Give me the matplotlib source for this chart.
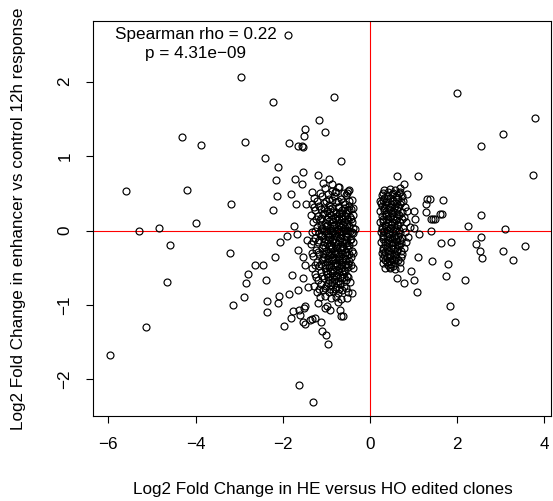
import numpy as np
import matplotlib
matplotlib.use("Agg")
import matplotlib.pyplot as plt

plt.rcParams['font.family'] = ['Liberation Sans', 'DejaVu Sans']

# log2 fold changes: (HE vs HO clones, enhancer vs control 12h)
far_left = [(-2.96, 2.06), (-4.31, 1.25), (-3.88, 1.15), (-2.87, 1.19), (-5.60, 0.53),
            (-4.19, 0.54), (-3.18, 0.35), (-4.00, 0.10), (-5.29, -0.01), (-4.84, 0.03),
            (-4.59, -0.19), (-3.20, -0.30), (-2.64, -0.47), (-2.80, -0.58), (-2.84, -0.70),
            (-4.66, -0.69), (-2.89, -0.89), (-3.15, -1.00), (-5.14, -1.30), (-5.96, -1.68)]

left_fringe = [(-1.87, 2.63), (-2.22, 1.73), (-0.82, 1.79), (-1.16, 1.49), (-1.03, 1.32),
               (-1.49, 1.37), (-1.51, 1.27), (-1.86, 1.18), (-1.64, 1.14), (-1.53, 1.12),
               (-1.57, 1.14), (-2.41, 0.97), (-2.12, 0.85), (-0.66, 0.93), (-1.53, 0.78),
               (-2.16, 0.68), (-1.72, 0.69), (-1.55, 0.63), (-1.19, 0.75), (-1.07, 0.64),
               (-0.94, 0.69), (-0.86, 0.63), (-0.73, 0.59), (-0.80, 0.52), (-0.51, 0.53),
               (-1.81, 0.49), (-2.13, 0.46), (-2.22, 0.28), (-1.70, 0.35), (-1.47, 0.36),
               (-1.34, 0.52), (-1.74, 0.06), (-1.91, -0.08), (-2.06, -0.15), (-1.68, -0.05),
               (-1.45, -0.13), (-1.64, -0.26), (-2.18, -0.36), (-2.45, -0.47), (-1.53, -0.35),
               (-1.49, -0.46), (-2.39, -0.67), (-1.78, -0.60), (-1.53, -0.64), (-1.42, -0.76),
               (-1.64, -0.80), (-1.86, -0.86), (-2.09, -0.88), (-2.37, -0.95), (-2.10, -0.98),
               (-2.37, -1.10), (-1.49, -1.02), (-1.19, -0.97), (-0.99, -1.01), (-0.73, -0.96),
               (-0.53, -0.91), (-0.42, -0.84), (-1.98, -1.28), (-1.82, -1.17), (-1.77, -1.08),
               (-1.62, -1.07), (-1.61, -1.14), (-1.51, -1.04), (-1.53, -1.23), (-1.49, -1.26),
               (-1.38, -1.20), (-1.25, -1.17), (-1.34, -1.19), (-1.12, -1.23), (-1.11, -1.35),
               (-1.01, -1.41), (-0.97, -1.53), (-1.02, -1.04), (-0.92, -1.07), (-0.69, -1.07),
               (-0.67, -1.15), (-0.61, -1.15), (-1.62, -2.08), (-1.31, -2.30)]

left_core = [(-1.02, 0.57), (-0.88, 0.53), (-0.71, 0.58), (-0.60, 0.51), (-0.47, 0.55),
             (-1.28, 0.44), (-1.10, 0.47), (-0.95, 0.42), (-0.82, 0.46), (-0.66, 0.43),
             (-0.55, 0.48), (-0.42, 0.41), (-1.32, 0.36), (-1.18, 0.33), (-1.05, 0.37),
             (-0.93, 0.34), (-0.79, 0.38), (-0.70, 0.32), (-0.58, 0.36), (-0.49, 0.33),
             (-1.25, 0.27), (-1.12, 0.29), (-0.99, 0.26), (-0.86, 0.30), (-0.77, 0.25),
             (-0.64, 0.28), (-0.53, 0.27), (-0.44, 0.29), (-1.36, 0.21), (-1.20, 0.19),
             (-1.08, 0.22), (-0.97, 0.18), (-0.90, 0.21), (-0.81, 0.17), (-0.72, 0.22),
             (-0.63, 0.19), (-0.57, 0.20), (-0.46, 0.18), (-0.38, 0.21), (-1.30, 0.12),
             (-1.15, 0.14), (-1.03, 0.10), (-0.94, 0.13), (-0.85, 0.11), (-0.76, 0.14),
             (-0.68, 0.10), (-0.60, 0.12), (-0.51, 0.13), (-0.41, 0.11), (-1.22, 0.05),
             (-1.10, 0.03), (-1.00, 0.06), (-0.91, 0.04), (-0.83, 0.07), (-0.74, 0.02),
             (-0.66, 0.05), (-0.58, 0.03), (-0.49, 0.06), (-0.40, 0.04), (-0.35, 0.02),
             (-1.33, -0.02), (-1.17, -0.04), (-1.06, 0.00), (-0.96, -0.03), (-0.88, -0.01),
             (-0.80, -0.04), (-0.71, -0.02), (-0.62, 0.00), (-0.54, -0.03), (-0.45, -0.01),
             (-0.38, -0.04), (-1.27, -0.10), (-1.13, -0.08), (-1.02, -0.11), (-0.93, -0.09),
             (-0.84, -0.12), (-0.77, -0.08), (-0.69, -0.10), (-0.60, -0.12), (-0.52, -0.09),
             (-0.43, -0.11), (-1.35, -0.18), (-1.20, -0.16), (-1.08, -0.19), (-0.98, -0.17),
             (-0.89, -0.20), (-0.81, -0.16), (-0.73, -0.18), (-0.65, -0.21), (-0.56, -0.17),
             (-0.47, -0.19), (-0.39, -0.16), (-1.24, -0.26), (-1.11, -0.24), (-1.00, -0.27),
             (-0.92, -0.25), (-0.83, -0.28), (-0.75, -0.24), (-0.67, -0.26), (-0.58, -0.29),
             (-0.50, -0.25), (-0.42, -0.27), (-1.30, -0.34), (-1.16, -0.32), (-1.05, -0.35),
             (-0.95, -0.33), (-0.86, -0.36), (-0.78, -0.32), (-0.70, -0.34), (-0.61, -0.37),
             (-0.53, -0.33), (-0.44, -0.35), (-1.21, -0.42), (-1.09, -0.40), (-0.99, -0.43),
             (-0.90, -0.41), (-0.81, -0.44), (-0.72, -0.40), (-0.64, -0.42), (-0.55, -0.45),
             (-0.47, -0.41), (-1.33, -0.50), (-1.17, -0.48), (-1.03, -0.51), (-0.94, -0.49),
             (-0.85, -0.52), (-0.76, -0.48), (-0.67, -0.50), (-0.59, -0.53), (-0.50, -0.49),
             (-0.40, -0.51), (-1.26, -0.58), (-1.12, -0.56), (-0.98, -0.59), (-0.88, -0.57),
             (-0.79, -0.60), (-0.70, -0.56), (-0.62, -0.58), (-0.53, -0.61), (-1.19, -0.66),
             (-1.06, -0.64), (-0.93, -0.67), (-0.83, -0.65), (-0.74, -0.68), (-0.65, -0.64),
             (-0.56, -0.66), (-0.46, -0.69), (-1.29, -0.74), (-1.13, -0.72), (-1.00, -0.75),
             (-0.89, -0.73), (-0.78, -0.76), (-0.69, -0.72), (-0.60, -0.74), (-1.22, -0.82),
             (-1.08, -0.80), (-0.95, -0.83), (-0.84, -0.81), (-0.73, -0.84), (-0.63, -0.80),
             (-0.51, -0.82), (-1.15, -0.90), (-1.02, -0.88), (-0.90, -0.91), (-0.79, -0.89),
             (-0.66, -0.92),
             (-1.06, 0.24), (-0.94, 0.23), (-0.85, 0.25), (-0.75, 0.20), (-0.67, 0.24),
             (-0.55, 0.23), (-1.12, 0.08), (-0.98, 0.08), (-0.87, 0.06), (-0.79, 0.09),
             (-0.70, 0.07), (-0.62, 0.08), (-0.53, 0.09), (-1.09, -0.06), (-0.97, -0.06),
             (-0.86, -0.05), (-0.78, -0.07), (-0.66, -0.06), (-0.56, -0.07), (-1.04, -0.22),
             (-0.94, -0.21), (-0.86, -0.23), (-0.77, -0.22), (-0.69, -0.23), (-0.61, -0.22),
             (-0.52, -0.21), (-1.07, -0.38), (-0.97, -0.37), (-0.88, -0.39), (-0.80, -0.38),
             (-0.71, -0.37), (-0.63, -0.39), (-0.55, -0.38), (-1.01, -0.54), (-0.91, -0.55),
             (-0.82, -0.54), (-0.73, -0.53), (-0.64, -0.55), (-0.57, -0.54), (-0.96, -0.70),
             (-0.86, -0.69), (-0.77, -0.71), (-0.68, -0.70),
             (-1.15, 0.51), (-0.96, 0.49), (-0.77, 0.52), (-0.52, 0.50),
             (-1.22, 0.40), (-1.00, 0.39), (-0.87, 0.41), (-0.74, 0.40), (-0.61, 0.38),
             (-0.47, 0.40), (-1.28, 0.31), (-1.05, 0.30), (-0.91, 0.29), (-0.73, 0.31),
             (-0.60, 0.30), (-0.48, 0.28), (-0.39, 0.30), (-1.24, 0.16), (-1.12, 0.17),
             (-0.99, 0.15), (-0.87, 0.16), (-0.72, 0.15), (-0.64, 0.17), (-0.53, 0.16),
             (-0.44, 0.15), (-1.26, 0.00), (-1.13, 0.01), (-1.01, -0.01), (-0.92, 0.01),
             (-0.84, -0.02), (-0.75, 0.00), (-0.66, -0.01), (-0.58, 0.01), (-0.50, 0.00),
             (-0.42, -0.02), (-1.31, -0.14), (-1.17, -0.13), (-1.05, -0.15), (-0.96, -0.13),
             (-0.87, -0.14), (-0.79, -0.15), (-0.71, -0.13), (-0.63, -0.15), (-0.54, -0.14),
             (-0.45, -0.13), (-1.34, -0.30), (-1.19, -0.29), (-1.08, -0.31), (-0.97, -0.30),
             (-0.89, -0.31), (-0.81, -0.29), (-0.73, -0.30), (-0.64, -0.31), (-0.55, -0.29),
             (-0.47, -0.31), (-0.39, -0.30), (-1.27, -0.46), (-1.13, -0.45), (-1.02, -0.47),
             (-0.93, -0.46), (-0.84, -0.47), (-0.75, -0.45), (-0.66, -0.46), (-0.58, -0.47),
             (-0.50, -0.45), (-0.43, -0.46), (-1.23, -0.62), (-1.09, -0.61), (-0.96, -0.63),
             (-0.86, -0.62), (-0.77, -0.61), (-0.68, -0.63), (-0.59, -0.62), (-0.50, -0.63),
             (-1.18, -0.78), (-1.04, -0.77), (-0.92, -0.79), (-0.81, -0.78), (-0.71, -0.79),
             (-0.56, -0.77)]

right_core = [(0.33, 0.55), (0.45, 0.56), (0.58, 0.54), (0.70, 0.57),
              (0.27, 0.48), (0.38, 0.47), (0.50, 0.49), (0.62, 0.48), (0.74, 0.47), (0.85, 0.49),
              (0.24, 0.40), (0.31, 0.41), (0.42, 0.39), (0.53, 0.40), (0.64, 0.42), (0.76, 0.39),
              (0.28, 0.33), (0.36, 0.34), (0.47, 0.32), (0.58, 0.33), (0.69, 0.35), (0.81, 0.32),
              (0.23, 0.26), (0.33, 0.27), (0.42, 0.25), (0.52, 0.26), (0.62, 0.28), (0.73, 0.25),
              (0.86, 0.26), (0.27, 0.19), (0.37, 0.20), (0.46, 0.18), (0.56, 0.19), (0.66, 0.21),
              (0.78, 0.18), (0.24, 0.12), (0.31, 0.13), (0.41, 0.11), (0.51, 0.12), (0.60, 0.14),
              (0.70, 0.11), (0.83, 0.12), (0.28, 0.05), (0.36, 0.06), (0.45, 0.04), (0.55, 0.05),
              (0.65, 0.07), (0.76, 0.04), (0.92, 0.05), (0.25, -0.02), (0.33, -0.01), (0.42, -0.03),
              (0.50, -0.02), (0.59, 0.00), (0.69, -0.03), (0.80, -0.02), (0.29, -0.09), (0.38, -0.08),
              (0.47, -0.10), (0.56, -0.09), (0.64, -0.07), (0.74, -0.10), (0.88, -0.09),
              (0.26, -0.16), (0.34, -0.15), (0.43, -0.17), (0.52, -0.16), (0.61, -0.14),
              (0.71, -0.17), (0.82, -0.16), (0.30, -0.23), (0.39, -0.22), (0.48, -0.24),
              (0.57, -0.23), (0.67, -0.21), (0.78, -0.24), (0.27, -0.30), (0.35, -0.29),
              (0.45, -0.31), (0.54, -0.30), (0.63, -0.28), (0.74, -0.31), (0.31, -0.37),
              (0.40, -0.36), (0.50, -0.38), (0.60, -0.37), (0.71, -0.35), (0.29, -0.44),
              (0.38, -0.43), (0.48, -0.45), (0.58, -0.44), (0.68, -0.42), (0.35, -0.51),
              (0.46, -0.50), (0.57, -0.52),
              (0.32, 0.44), (0.47, 0.44), (0.59, 0.45), (0.36, 0.22), (0.50, 0.23), (0.61, 0.22),
              (0.34, 0.08), (0.48, 0.09), (0.62, 0.08), (0.30, -0.06), (0.44, -0.05), (0.58, -0.06),
              (0.35, -0.20), (0.50, -0.19), (0.63, -0.20), (0.33, -0.33), (0.46, -0.34), (0.57, -0.33),
              (0.29, 0.51), (0.41, 0.52), (0.53, 0.50), (0.66, 0.51), (0.26, 0.37), (0.37, 0.38),
              (0.49, 0.36), (0.60, 0.37), (0.71, 0.38), (0.32, 0.30), (0.43, 0.29), (0.55, 0.30),
              (0.65, 0.31), (0.29, 0.16), (0.42, 0.15), (0.53, 0.16), (0.63, 0.17), (0.73, 0.15),
              (0.27, 0.02), (0.38, 0.01), (0.47, 0.03), (0.57, 0.02), (0.67, 0.01), (0.31, -0.12),
              (0.41, -0.13), (0.50, -0.11), (0.59, -0.12), (0.68, -0.13), (0.29, -0.26),
              (0.41, -0.27), (0.52, -0.25), (0.61, -0.26), (0.71, -0.27), (0.34, -0.40),
              (0.45, -0.41), (0.55, -0.39), (0.64, -0.40), (0.42, -0.47), (0.52, -0.48)]

right_fringe = [(1.11, 0.73), (0.62, 0.73), (0.79, 0.63), (0.68, 0.52), (1.31, 0.42),
                (1.28, 0.36), (1.28, 0.25), (1.49, 0.16), (1.40, 0.15), (1.01, 0.26),
                (1.04, 0.15), (1.13, -0.05), (1.01, 0.04), (1.11, -0.36), (0.47, -0.49),
                (0.94, -0.55), (0.63, -0.64), (0.79, -0.70), (1.02, -0.66), (1.07, -0.83),
                (0.69, -0.51)]

far_right = [(1.99, 1.85), (3.78, 1.51), (3.05, 1.30), (2.55, 1.13), (3.75, 0.75),
             (1.67, 0.41), (1.38, 0.43), (1.61, 0.22), (1.66, 0.22), (1.45, 0.15),
             (2.55, 0.21), (2.25, 0.06), (1.41, 0.00), (3.10, 0.02), (2.54, -0.09),
             (2.43, -0.18), (1.86, -0.15), (1.63, -0.17), (2.53, -0.28), (2.58, -0.37),
             (3.55, -0.21), (3.04, -0.27), (3.28, -0.40), (1.42, -0.41), (1.80, -0.45),
             (1.74, -0.61), (2.18, -0.66), (1.83, -1.01), (1.96, -1.23)]

rho_text = "Spearman rho = 0.22"
p_text = "p = 4.31e\u221209"

pts = np.array(far_left + left_fringe + left_core + right_core + right_fringe + far_right)
x = pts[:, 0]
y = pts[:, 1]

fig = plt.figure(figsize=(5.53, 5.01), dpi=100)
ax = fig.add_axes([0.1687, 0.1697, 0.8271, 0.789])

ax.plot(x, y, 'o', mfc='none', mec='black', ms=5.0, mew=0.85, zorder=3)
ax.axhline(0, color='red', lw=0.8, zorder=2)
ax.axvline(0, color='red', lw=0.8, zorder=2)

ax.set_xlim(-6.346, 4.145)
ax.set_ylim(-2.493, 2.820)
ax.set_xticks([-6, -4, -2, 0, 2, 4])
ax.set_yticks([-2, -1, 0, 1, 2])
ax.tick_params(direction='out', length=5, width=0.8, labelsize=12.3)
ax.tick_params(axis='x', pad=10)
ax.tick_params(axis='y', pad=10)
for lab in ax.get_yticklabels():
    lab.set_rotation(90)
    lab.set_va('center')
for s in ax.spines.values():
    s.set_linewidth(0.8)

ax.text(-4.0, 2.574, rho_text, ha='center', va='baseline', fontsize=12.3)
ax.text(-4.0, 2.319, p_text, ha='center', va='baseline', fontsize=12.3)

fig.text(0.583, 0.023, "Log2 Fold Change in HE versus HO edited clones",
         ha='center', va='center', fontsize=12.3)
fig.text(0.033, 0.564, "Log2 Fold Change in enhancer vs control 12h response",
         ha='center', va='center', rotation=90, fontsize=12.3)

fig.savefig("out.png", dpi=100)
